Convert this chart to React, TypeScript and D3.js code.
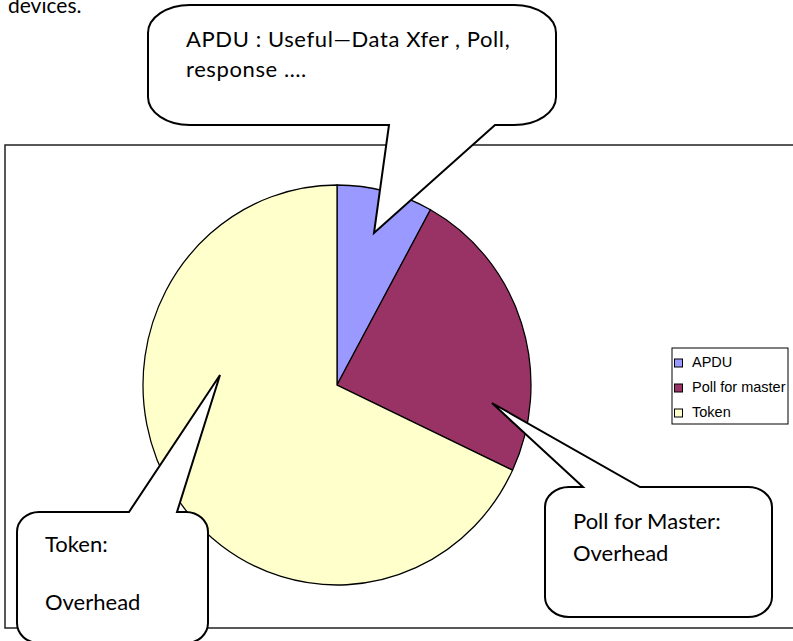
import React, { useEffect, useRef } from "react";
import * as d3 from "d3";

// slice data (percent of bus time)
const categories = ["APDU", "Poll for master", "Token"];
const values = [8, 24, 68];
const colors = ["#9999FF", "#993366", "#FFFFCC"];

// callout texts
const apduNote = ["APDU : Useful\u2014Data Xfer , Poll,", "response \u2026."];
const pollNote = ["Poll for Master:", "Overhead"];
const tokenNote = ["Token:", "", "Overhead"];

const W = 793;
const H = 641;

// rounded box with a pointed tail on the top or bottom edge
function calloutPath(
  x0: number, y0: number, x1: number, y1: number,
  rx: number, ry: number, edge: string,
  b1: number, b2: number, tip: [number, number]
) {
  let p = `M${x0 + rx},${y0}`;
  if (edge === "top") p += `L${b1},${y0}L${tip[0]},${tip[1]}L${b2},${y0}`;
  p += `L${x1 - rx},${y0}A${rx},${ry} 0 0 1 ${x1},${y0 + ry}`;
  p += `L${x1},${y1 - ry}A${rx},${ry} 0 0 1 ${x1 - rx},${y1}`;
  if (edge === "bottom") p += `L${b2},${y1}L${tip[0]},${tip[1]}L${b1},${y1}`;
  p += `L${x0 + rx},${y1}A${rx},${ry} 0 0 1 ${x0},${y1 - ry}`;
  p += `L${x0},${y0 + ry}A${rx},${ry} 0 0 1 ${x0 + rx},${y0}Z`;
  return p;
}

const App = () => {
  const ref = useRef<SVGSVGElement>(null);

  useEffect(() => {
    const svg = d3.select(ref.current);
    svg.selectAll("*").remove();

    // page text cut at the top
    svg.append("text")
      .attr("x", 8)
      .attr("y", 13)
      .attr("font-family", "Lato, 'Open Sans', sans-serif")
      .attr("font-size", 21)
      .text("devices.");

    // chart frame
    svg.append("rect")
      .attr("x", 5)
      .attr("y", 145)
      .attr("width", 820)
      .attr("height", 483)
      .attr("fill", "white")
      .attr("stroke", "#222")
      .attr("stroke-width", 1.5);

    // pie
    const pie = d3.pie<number>().sort(null).value(d => d);
    const arc = d3.arc<d3.PieArcDatum<number>>().innerRadius(0).outerRadius(200);
    const g = svg.append("g").attr("transform", "translate(337,385) scale(0.97,1)");
    g.selectAll("path")
      .data(pie(values))
      .join("path")
      .attr("d", arc)
      .attr("fill", (_, i) => colors[i])
      .attr("stroke", "black")
      .attr("stroke-width", 1.3);

    // legend
    const lg = svg.append("g").attr("transform", "translate(672,348)");
    lg.append("rect")
      .attr("width", 116)
      .attr("height", 76)
      .attr("fill", "white")
      .attr("stroke", "black")
      .attr("stroke-width", 1);
    const items = lg.selectAll("g.item")
      .data(categories)
      .join("g")
      .attr("class", "item")
      .attr("transform", (_, i) => `translate(0,${19 + i * 25})`);
    items.append("rect")
      .attr("x", 2.5)
      .attr("y", -8)
      .attr("width", 8)
      .attr("height", 8)
      .attr("fill", (_, i) => colors[i])
      .attr("stroke", "black")
      .attr("stroke-width", 1);
    items.append("text")
      .attr("x", 20)
      .attr("y", 0)
      .attr("font-family", "Arial, 'Liberation Sans', sans-serif")
      .attr("font-size", 14.5)
      .text(d => d);

    // callouts
    const notes = [
      { d: calloutPath(148, 5, 556, 125, 42, 28, "bottom", 389, 495, [374, 233]), lines: apduNote, x: 186, y: 47, step: 30, ls: 0.6 },
      { d: calloutPath(545, 487, 772, 617, 24, 20, "top", 583, 640, [492, 403]), lines: pollNote, x: 573, y: 529, step: 32, ls: 0 },
      { d: calloutPath(17, 512, 208, 643, 22, 20, "top", 129, 177, [220, 375]), lines: tokenNote, x: 45, y: 552, step: 29, ls: 0 },
    ];
    notes.forEach(n => {
      svg.append("path")
        .attr("d", n.d)
        .attr("fill", "white")
        .attr("stroke", "black")
        .attr("stroke-width", 2)
        .attr("stroke-linejoin", "miter");
      const t = svg.append("text")
        .attr("font-family", "Lato, 'Open Sans', sans-serif")
        .attr("font-size", 22)
        .attr("letter-spacing", n.ls);
      n.lines.forEach((l, i) => {
        t.append("tspan").attr("x", n.x).attr("y", n.y + i * n.step).text(l);
      });
    });
  }, []);

  return (
    <svg
      ref={ref}
      width={W}
      height={H}
      style={{ position: "absolute", left: 0, top: 0, background: "white" }}
    />
  );
};

export default App;
